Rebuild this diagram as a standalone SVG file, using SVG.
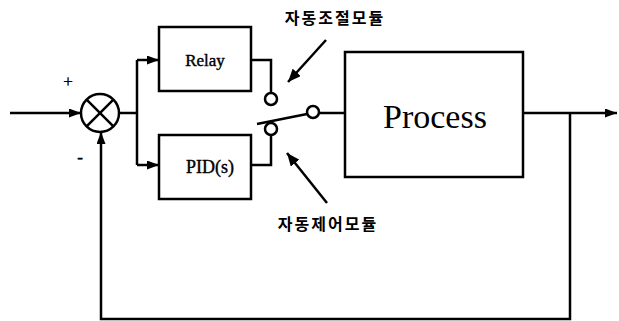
<svg xmlns="http://www.w3.org/2000/svg" width="619" height="321" viewBox="0 0 619 321">
<style>
.ln{fill:none;stroke:#000;stroke-width:2.5}
.box{fill:#fff;stroke:#000;stroke-width:2.5}
.ct{fill:#fff;stroke:#000;stroke-width:2.5}
.serif{font-family:"Liberation Serif","Times New Roman",serif;fill:#000}
.bl{stroke:#000;stroke-width:0.4}
.kr{font-family:"Noto Sans CJK KR","Noto Sans",sans-serif;font-weight:bold;font-size:16px;fill:#000;letter-spacing:2px}
</style>
<defs>
<marker id="ah" viewBox="0 0 12 9" refX="12" refY="4.5" markerWidth="12" markerHeight="9" markerUnits="userSpaceOnUse" orient="auto">
<path d="M0,0 L12,4.5 L0,9 Z" fill="#000"/>
</marker>
<marker id="ah2" viewBox="0 0 13 11" refX="13" refY="5.5" markerWidth="13" markerHeight="11" markerUnits="userSpaceOnUse" orient="auto">
<path d="M0,0 L13,5.5 L0,11 Z" fill="#000"/>
</marker>
</defs>
<g id="connectors">
<line class="ln" x1="10" y1="113" x2="81" y2="113" marker-end="url(#ah)"/>
<polyline class="ln" points="120,113 137,113"/>
<polyline class="ln" points="137,60 137,165"/>
<line class="ln" x1="137" y1="60" x2="159" y2="60" marker-end="url(#ah)"/>
<line class="ln" x1="137" y1="165" x2="159" y2="165" marker-end="url(#ah)"/>
<polyline class="ln" points="251,60 271,60 271,93"/>
<polyline class="ln" points="251,165 271,165 271,135"/>
<line class="ln" x1="257" y1="124" x2="307" y2="114"/>
<line class="ln" x1="319" y1="113" x2="345" y2="113"/>
<line class="ln" x1="523" y1="113" x2="617" y2="113" marker-end="url(#ah)"/>
<polyline class="ln" points="570,113 570,319 101,319 101,132" marker-end="url(#ah)"/>
<line class="ln" x1="326" y1="40" x2="288" y2="82" marker-end="url(#ah2)"/>
<line class="ln" x1="327" y1="203" x2="287" y2="153" marker-end="url(#ah2)"/>
</g>
<g id="sum">
<circle class="ct" cx="100" cy="113" r="19"/>
<line class="ln" x1="86.6" y1="99.6" x2="113.4" y2="126.4"/>
<line class="ln" x1="113.4" y1="99.6" x2="86.6" y2="126.4"/>
<text class="serif bl" x="68" y="87" font-size="17" text-anchor="middle">+</text>
<text class="serif bl" x="80" y="163" font-size="17" text-anchor="middle">-</text>
</g>
<g id="relay">
<rect class="box" x="159" y="27" width="92" height="64"/>
<text class="serif bl" x="205" y="66" font-size="17" text-anchor="middle">Relay</text>
</g>
<g id="pid">
<rect class="box" x="159" y="135" width="92" height="64"/>
<text class="serif bl" x="210" y="173" font-size="18" text-anchor="middle">PID(s)</text>
</g>
<g id="switch">
<circle class="ct" cx="271" cy="99" r="6"/>
<circle class="ct" cx="271" cy="129" r="6"/>
<circle class="ct" cx="313" cy="112" r="6"/>
</g>
<g id="process">
<rect class="box" x="345" y="52" width="178" height="125"/>
<text class="serif" x="435" y="128" font-size="34" text-anchor="middle">Process</text>
</g>
<g id="label-top">
<text class="kr" x="335" y="24" text-anchor="middle">자동조절모듈</text>
</g>
<g id="label-bottom">
<text class="kr" x="328" y="230" text-anchor="middle">자동제어모듈</text>
</g>
</svg>
